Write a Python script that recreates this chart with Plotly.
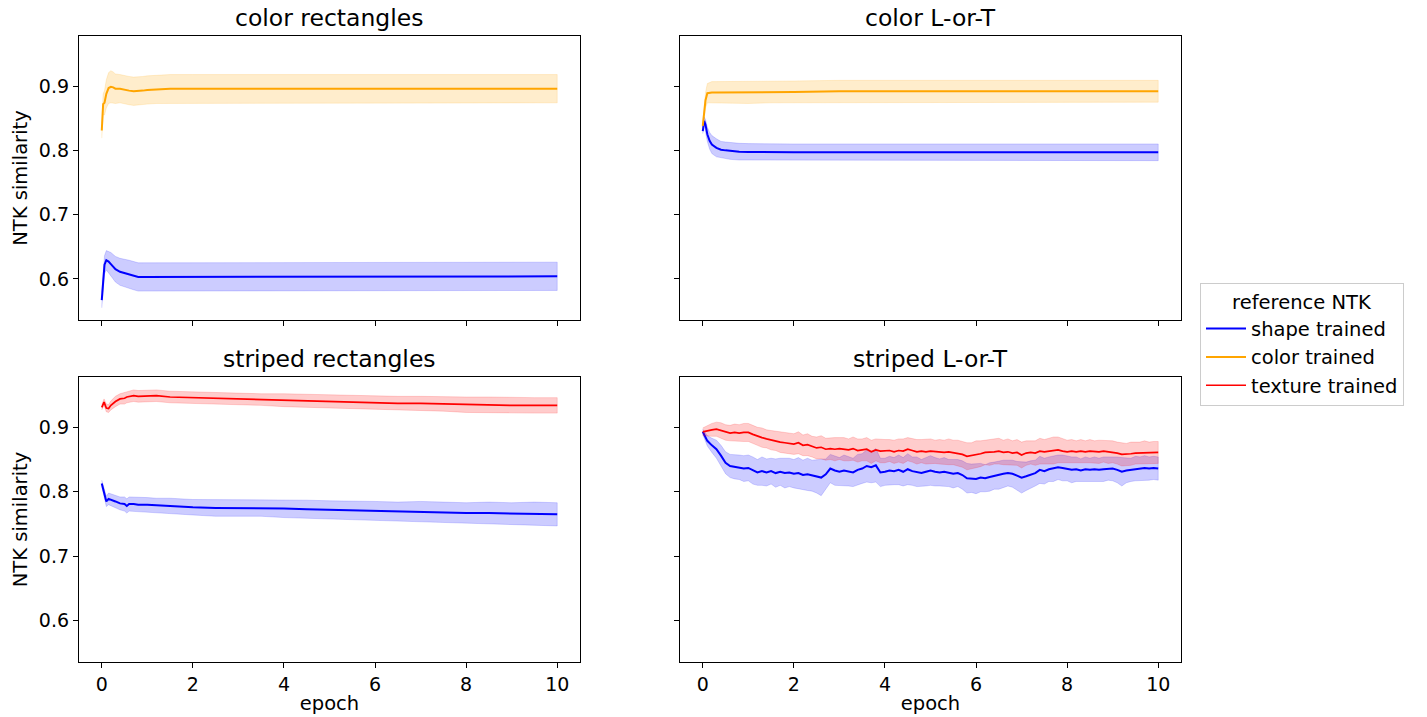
import plotly.graph_objects as go

# ---------------- data ----------------
# color rectangles
cr_epoch = [0, 0.03, 0.06, 0.1, 0.15, 0.2, 0.25, 0.3, 0.4, 0.5, 0.6, 0.7, 0.8, 0.9, 1.0,
            1.2, 1.5, 2, 3, 4, 5, 6, 7, 8, 9, 10]
cr_color_mean = [0.831, 0.872, 0.874, 0.888, 0.897, 0.899, 0.898, 0.896, 0.896, 0.894,
                 0.893, 0.892, 0.892, 0.893, 0.894, 0.895, 0.896, 0.896, 0.896, 0.896,
                 0.896, 0.896, 0.896, 0.896, 0.896, 0.896]
cr_color_sd = [0.012, 0.016, 0.019, 0.022, 0.024, 0.025, 0.024, 0.023, 0.022, 0.022,
               0.022, 0.022, 0.022, 0.022, 0.022, 0.022, 0.022, 0.022, 0.022, 0.022,
               0.022, 0.022, 0.022, 0.022, 0.022, 0.022]
cr_shape_mean = [0.567, 0.600, 0.622, 0.629, 0.627, 0.623, 0.619, 0.615, 0.611, 0.609,
                 0.607, 0.605, 0.603, 0.603, 0.603, 0.604, 0.604, 0.604, 0.604, 0.604,
                 0.604, 0.604, 0.604, 0.604, 0.604, 0.604]
cr_shape_sd = [0.012, 0.013, 0.014, 0.015, 0.016, 0.018, 0.019, 0.020, 0.021, 0.022,
               0.022, 0.022, 0.022, 0.022, 0.022, 0.022, 0.022, 0.022, 0.022, 0.022,
               0.022, 0.022, 0.022, 0.022, 0.022, 0.022]

# color L-or-T
cl_epoch = [0, 0.03, 0.06, 0.1, 0.15, 0.2, 0.3, 0.4, 0.5, 0.6, 0.8, 1.0, 1.5, 2, 3, 4,
            5, 6, 7, 8, 9, 10]
cl_color_mean = [0.838, 0.860, 0.878, 0.889, 0.890, 0.890, 0.890, 0.890, 0.890, 0.890,
                 0.890, 0.890, 0.891, 0.891, 0.892, 0.892, 0.892, 0.892, 0.892, 0.892,
                 0.892, 0.892]
cl_color_sd = [0.005, 0.008, 0.012, 0.015, 0.016, 0.017, 0.017, 0.017, 0.017, 0.017,
               0.017, 0.017, 0.017, 0.017, 0.017, 0.017, 0.017, 0.017, 0.017, 0.017,
               0.017, 0.017]
cl_shape_mean = [0.830, 0.846, 0.840, 0.825, 0.815, 0.809, 0.804, 0.801, 0.800, 0.799,
                 0.798, 0.7975, 0.797, 0.797, 0.797, 0.797, 0.797, 0.797, 0.797, 0.797,
                 0.797, 0.797]
cl_shape_sd = [0.004, 0.006, 0.008, 0.011, 0.013, 0.014, 0.014, 0.013, 0.013, 0.013,
               0.013, 0.013, 0.013, 0.013, 0.013, 0.013, 0.013, 0.013, 0.013, 0.013,
               0.013, 0.013]

# striped rectangles
sr_epoch = [0, 0.05, 0.1, 0.15, 0.2, 0.3, 0.4, 0.5, 0.55, 0.6, 0.7, 0.8, 1.0, 1.2, 1.5,
            2.0, 2.5, 3.0, 3.5, 4.0, 4.5, 5.0, 5.5, 6.0, 6.5, 7.0, 7.5, 8.0, 8.5, 9.0,
            9.5, 10.0]
sr_texture_mean = [0.931, 0.939, 0.930, 0.929, 0.934, 0.940, 0.944, 0.945, 0.947, 0.948,
                   0.949, 0.948, 0.948, 0.949, 0.947, 0.946, 0.944, 0.944, 0.943, 0.942,
                   0.941, 0.940, 0.939, 0.938, 0.937, 0.937, 0.936, 0.935, 0.935, 0.934,
                   0.934, 0.934]
sr_texture_sd = [0.004, 0.005, 0.006, 0.006, 0.007, 0.008, 0.008, 0.009, 0.009, 0.009,
                 0.009, 0.009, 0.009, 0.009, 0.009, 0.009, 0.009, 0.009, 0.009, 0.010,
                 0.010, 0.010, 0.010, 0.011, 0.011, 0.011, 0.011, 0.012, 0.012, 0.012,
                 0.012, 0.012]
sr_shape_mean = [0.813, 0.800, 0.785, 0.789, 0.788, 0.785, 0.782, 0.781, 0.778, 0.781,
                 0.781, 0.780, 0.780, 0.779, 0.778, 0.776, 0.775, 0.775, 0.775, 0.774,
                 0.773, 0.772, 0.771, 0.770, 0.769, 0.769, 0.768, 0.767, 0.767, 0.766,
                 0.766, 0.765]
sr_shape_sd = [0.005, 0.007, 0.008, 0.009, 0.009, 0.010, 0.010, 0.011, 0.011, 0.011,
               0.011, 0.011, 0.011, 0.011, 0.012, 0.012, 0.013, 0.013, 0.013, 0.014,
               0.014, 0.014, 0.015, 0.015, 0.015, 0.016, 0.016, 0.016, 0.017, 0.017,
               0.018, 0.018]

# striped L-or-T (epochs 0, 0.1, ..., 10)
sl_epoch = [round(i * 0.1, 1) for i in range(101)]
sl_texture_mean = [
    0.893, 0.895, 0.896, 0.897, 0.895, 0.892, 0.891, 0.892, 0.891, 0.892,
    0.892, 0.889, 0.886, 0.884, 0.882, 0.880, 0.879, 0.877, 0.876, 0.875,
    0.874, 0.876, 0.872, 0.873, 0.870, 0.868, 0.869, 0.866, 0.867, 0.866,
    0.867, 0.866, 0.865, 0.867, 0.864, 0.865, 0.866, 0.862, 0.865, 0.863,
    0.863, 0.864, 0.862, 0.864, 0.863, 0.866, 0.864, 0.862, 0.863, 0.862,
    0.863, 0.862, 0.862, 0.861, 0.862, 0.861, 0.860, 0.858, 0.855, 0.856,
    0.858, 0.859, 0.861, 0.861, 0.862, 0.863, 0.861, 0.862, 0.860, 0.861,
    0.857, 0.860, 0.861, 0.860, 0.863, 0.862, 0.863, 0.864, 0.865, 0.863,
    0.862, 0.863, 0.862, 0.863, 0.862, 0.863, 0.862, 0.862, 0.863, 0.862,
    0.862, 0.860, 0.858, 0.858, 0.859, 0.860, 0.860, 0.861, 0.860, 0.861,
    0.861]
sl_texture_sd = [
    0.006, 0.008, 0.010, 0.011, 0.012, 0.012, 0.012, 0.013, 0.013, 0.014,
    0.014, 0.014, 0.014, 0.015, 0.014, 0.015, 0.015, 0.016, 0.015, 0.016,
    0.016, 0.017, 0.016, 0.017, 0.016, 0.017, 0.018, 0.017, 0.017, 0.018,
    0.017, 0.018, 0.017, 0.018, 0.018, 0.017, 0.018, 0.018, 0.017, 0.018,
    0.018, 0.017, 0.018, 0.018, 0.019, 0.018, 0.018, 0.019, 0.018, 0.019,
    0.019, 0.018, 0.019, 0.019, 0.020, 0.019, 0.020, 0.020, 0.021, 0.020,
    0.021, 0.020, 0.019, 0.020, 0.019, 0.020, 0.019, 0.020, 0.019, 0.020,
    0.020, 0.019, 0.018, 0.019, 0.020, 0.019, 0.020, 0.021, 0.020, 0.019,
    0.018, 0.018, 0.017, 0.018, 0.017, 0.018, 0.017, 0.018, 0.017, 0.018,
    0.017, 0.017, 0.018, 0.017, 0.018, 0.017, 0.017, 0.018, 0.017, 0.017,
    0.017]
sl_shape_mean = [
    0.893, 0.879, 0.872, 0.866, 0.856, 0.845, 0.840, 0.839, 0.838, 0.836,
    0.837, 0.833, 0.830, 0.832, 0.830, 0.832, 0.829, 0.831, 0.829, 0.830,
    0.828, 0.829, 0.826, 0.827, 0.825, 0.824, 0.822, 0.827, 0.836, 0.833,
    0.831, 0.833, 0.832, 0.830, 0.834, 0.836, 0.840, 0.838, 0.841, 0.830,
    0.831, 0.833, 0.832, 0.834, 0.831, 0.835, 0.832, 0.831, 0.829, 0.831,
    0.833, 0.831, 0.830, 0.831, 0.829, 0.828, 0.829, 0.826, 0.821, 0.821,
    0.820, 0.822, 0.821, 0.823, 0.825, 0.826, 0.828, 0.829, 0.828, 0.825,
    0.822, 0.824, 0.827, 0.829, 0.834, 0.832, 0.835, 0.836, 0.838, 0.837,
    0.836, 0.834, 0.835, 0.833, 0.835, 0.834, 0.835, 0.834, 0.835, 0.836,
    0.836, 0.834, 0.831, 0.833, 0.834, 0.836, 0.836, 0.837, 0.836, 0.837,
    0.836]
sl_shape_sd = [
    0.004, 0.008, 0.011, 0.014, 0.016, 0.017, 0.018, 0.019, 0.019, 0.020,
    0.020, 0.021, 0.020, 0.022, 0.021, 0.020, 0.022, 0.021, 0.023, 0.022,
    0.022, 0.024, 0.023, 0.025, 0.024, 0.026, 0.028, 0.024, 0.022, 0.023,
    0.022, 0.024, 0.023, 0.022, 0.024, 0.023, 0.025, 0.024, 0.026, 0.022,
    0.021, 0.022, 0.021, 0.023, 0.022, 0.024, 0.022, 0.023, 0.021, 0.022,
    0.023, 0.022, 0.021, 0.022, 0.021, 0.022, 0.021, 0.022, 0.023, 0.022,
    0.023, 0.022, 0.021, 0.022, 0.021, 0.022, 0.021, 0.020, 0.021, 0.022,
    0.024, 0.022, 0.021, 0.020, 0.021, 0.020, 0.019, 0.020, 0.019, 0.020,
    0.019, 0.020, 0.019, 0.018, 0.019, 0.018, 0.019, 0.018, 0.019, 0.018,
    0.019, 0.020, 0.022, 0.019, 0.018, 0.019, 0.018, 0.019, 0.018, 0.018,
    0.018]

panel_titles = ["color rectangles", "color L-or-T", "striped rectangles", "striped L-or-T"]
series_names = {"shape": "shape trained", "color": "color trained", "texture": "texture trained"}
line_colors = {"shape": "#0000ff", "color": "#ffa500", "texture": "#ff0000"}
fill_colors = {"shape": "rgba(0,0,255,0.2)", "color": "rgba(255,165,0,0.2)",
               "texture": "rgba(255,0,0,0.2)"}
line_widths = {"shape": 2.0, "color": 2.0, "texture": 1.7}

y_ticks = [0.6, 0.7, 0.8, 0.9]
x_ticks = [0, 2, 4, 6, 8, 10]

# ---------------- figure ----------------
W, H = 1427, 717
FONT = "DejaVu Sans"
TICK_SIZE = 19
LABEL_SIZE = 19.5
TITLE_SIZE = 23.5

# panel boxes in pixels: (left, right, top, bottom)
boxes = [(79, 580, 36, 320), (680, 1181, 36, 320),
         (79, 580, 377, 662), (680, 1181, 377, 662)]

panels = [
    (cr_epoch, [("shape", cr_shape_mean, cr_shape_sd), ("color", cr_color_mean, cr_color_sd)]),
    (cl_epoch, [("shape", cl_shape_mean, cl_shape_sd), ("color", cl_color_mean, cl_color_sd)]),
    (sr_epoch, [("shape", sr_shape_mean, sr_shape_sd), ("texture", sr_texture_mean, sr_texture_sd)]),
    (sl_epoch, [("shape", sl_shape_mean, sl_shape_sd), ("texture", sl_texture_mean, sl_texture_sd)]),
]

fig = go.Figure()
shown = set()
for i, (epoch, series) in enumerate(panels):
    xa = "x" if i == 0 else f"x{i + 1}"
    ya = "y" if i == 0 else f"y{i + 1}"
    for key, mean, sd in series:
        hi = [m + s for m, s in zip(mean, sd)]
        lo = [m - s for m, s in zip(mean, sd)]
        fig.add_trace(go.Scatter(
            x=list(epoch) + list(epoch)[::-1], y=hi + lo[::-1],
            fill="toself", fillcolor=fill_colors[key],
            line=dict(color=fill_colors[key], width=0.8),
            hoverinfo="skip", showlegend=False, xaxis=xa, yaxis=ya))
        fig.add_trace(go.Scatter(
            x=epoch, y=mean, mode="lines", name=series_names[key],
            line=dict(color=line_colors[key], width=line_widths[key]),
            legendgroup=key, showlegend=key not in shown, xaxis=xa, yaxis=ya))
        shown.add(key)

layout = dict(
    width=W, height=H, margin=dict(l=0, r=0, t=0, b=0),
    paper_bgcolor="white", plot_bgcolor="white",
    font=dict(family=FONT, size=LABEL_SIZE, color="black"),
    showlegend=True,
    legend=dict(
        x=1200 / W, y=1 - 283 / H, xanchor="left", yanchor="top",
        bordercolor="#cccccc", borderwidth=1, bgcolor="white",
        font=dict(family=FONT, size=LABEL_SIZE),
        title=dict(text="reference NTK", side="top center",
                   font=dict(family=FONT, size=LABEL_SIZE)),
        traceorder="normal", itemwidth=40,
        tracegroupgap=0,
    ),
)

annotations = []
for i, (l, r, t, b) in enumerate(boxes):
    sfx = "" if i == 0 else str(i + 1)
    bottom_row = i >= 2
    left_col = i % 2 == 0
    layout["xaxis" + sfx] = dict(
        domain=[l / W, r / W], anchor="y" + sfx, range=[-0.5, 10.5],
        tickvals=x_ticks, showticklabels=bottom_row,
        ticks="outside", ticklen=5, tickwidth=1.2, tickcolor="black",
        showline=True, linecolor="black", linewidth=1.3, mirror=True,
        showgrid=False, zeroline=False,
        tickfont=dict(size=TICK_SIZE),
        title=dict(text="epoch" if bottom_row else "", font=dict(size=LABEL_SIZE), standoff=2),
    )
    layout["yaxis" + sfx] = dict(
        domain=[1 - b / H, 1 - t / H], anchor="x" + sfx, range=[0.536, 0.978],
        tickvals=y_ticks, ticktext=[f"{v:.1f}" for v in y_ticks], showticklabels=left_col,
        ticks="outside", ticklen=5, tickwidth=1.2, tickcolor="black",
        showline=True, linecolor="black", linewidth=1.3, mirror=True,
        showgrid=False, zeroline=False,
        tickfont=dict(size=TICK_SIZE),
        title=dict(text="NTK similarity" if left_col else "", font=dict(size=LABEL_SIZE), standoff=6),
    )
    annotations.append(dict(
        text=panel_titles[i], x=(l + r) / 2 / W, y=1 - (t - 2) / H,
        xref="paper", yref="paper", xanchor="center", yanchor="bottom",
        showarrow=False, font=dict(family=FONT, size=TITLE_SIZE, color="black")))

layout["annotations"] = annotations
fig.update_layout(**layout)

fig.write_html("out.html")
